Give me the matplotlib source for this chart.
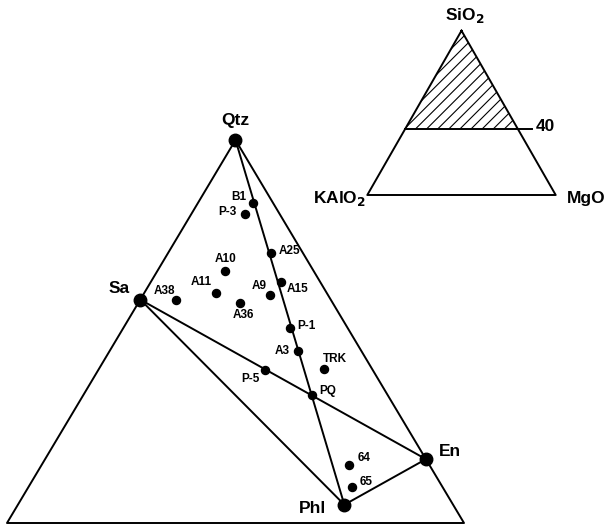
import matplotlib.pyplot as plt
from matplotlib.patches import Polygon

plt.rcParams['font.family'] = ['Liberation Sans', 'DejaVu Sans']
plt.rcParams['font.weight'] = 'bold'
plt.rcParams['hatch.linewidth'] = 0.8

# compositions in mole %: SiO2, KAlO2, MgO
phases = ['Qtz', 'Sa', 'En', 'Phl']
phase_sio2 = [100.0, 75.0, 50.0, 42.86]
phase_kalo2 = [0.0, 25.0, 0.0, 14.29]
phase_mgo = [0.0, 0.0, 50.0, 42.86]

samples = ['B1', 'P-3', 'A25', 'A10', 'A11', 'A9', 'A15', 'A36',
           'A38', 'P-1', 'A3', 'TRK', 'P-5', 'PQ', '64', '65']
sample_sio2 = [90.2, 88.4, 82.3, 79.5, 76.0, 75.7, 77.7, 74.4,
               74.9, 70.6, 66.9, 64.2, 63.9, 60.0, 49.1, 45.7]
sample_kalo2 = [2.6, 4.6, 4.2, 11.6, 14.6, 7.6, 5.2, 12.2,
                20.3, 7.5, 8.4, 6.3, 14.2, 10.0, 10.5, 11.9]
sample_mgo = [7.2, 7.0, 13.5, 8.9, 9.4, 16.7, 17.1, 13.4,
              4.8, 21.9, 24.7, 29.5, 21.9, 30.0, 40.4, 42.4]

tie_lines = [('Qtz', 'Phl'), ('Sa', 'En'), ('Sa', 'Phl'), ('Phl', 'En')]
sio2_cut = 40

# label offsets in pixels (dx, dy)
phase_offsets = {'Qtz': (0, 19), 'Sa': (-21, 11), 'En': (24, 8), 'Phl': (-32, -4)}
sample_offsets = {'B1': (-14, 6), 'P-3': (-17, 2), 'A25': (19, 2), 'A10': (0, 12),
                  'A11': (-14, 11), 'A9': (-11, 9), 'A15': (17, -7), 'A36': (3, -12),
                  'A38': (-12, 9), 'P-1': (16, 2), 'A3': (-15, 0), 'TRK': (11, 10),
                  'P-5': (-14, -9), 'PQ': (16, 4), '64': (15, 7), '65': (14, 5)}


def main_xy(s, k, m):
    # expanded triangle: SiO2 from sio2_cut to 100
    a = (s - sio2_cut) / (100 - sio2_cut)
    c = m / (100 - sio2_cut)
    return c + a / 2, a


def full_xy(s, k, m):
    return m / 100 + s / 200, s / 100


W, H = 606, 531
fig = plt.figure(figsize=(W / 100, H / 100), dpi=100)
ax = fig.add_axes([7 / W, 8 / H, 457 / W, 383 / H])
ax.set_xlim(0, 1)
ax.set_ylim(0, 1)
ax.axis('off')

lw = 1.4
corners = [(100, 0, 0), (sio2_cut, 100 - sio2_cut, 0), (sio2_cut, 0, 100 - sio2_cut)]
cx, cy = zip(*[main_xy(*c) for c in corners])
ax.plot(list(cx) + [cx[0]], list(cy) + [cy[0]], color='black', lw=lw, clip_on=False)

pos = {}
for name, s, k, m in zip(phases, phase_sio2, phase_kalo2, phase_mgo):
    pos[name] = main_xy(s, k, m)

for p1, p2 in tie_lines:
    ax.plot([pos[p1][0], pos[p2][0]], [pos[p1][1], pos[p2][1]],
            color='black', lw=lw, clip_on=False)

for name in phases:
    x, y = pos[name]
    ax.plot(x, y, 'o', color='black', ms=9, clip_on=False, zorder=5)
    ax.annotate(name, (x, y), xytext=phase_offsets[name], textcoords='offset pixels',
                ha='center', va='center', fontsize=12.5, fontweight='bold')

for name, s, k, m in zip(samples, sample_sio2, sample_kalo2, sample_mgo):
    x, y = main_xy(s, k, m)
    ax.plot(x, y, 'o', color='black', ms=5.8, clip_on=False, zorder=5)
    ax.annotate(name, (x, y), xytext=sample_offsets[name], textcoords='offset pixels',
                ha='center', va='center', fontsize=8.5, fontweight='bold')

# inset: whole SiO2-KAlO2-MgO triangle
ax2 = fig.add_axes([367.3 / W, (H - 195) / H, 188.4 / W, 164.3 / H])
ax2.set_xlim(0, 1)
ax2.set_ylim(0, 1)
ax2.axis('off')

full = [(100, 0, 0), (0, 100, 0), (0, 0, 100)]
fx, fy = zip(*[full_xy(*c) for c in full])
ax2.plot(list(fx) + [fx[0]], list(fy) + [fy[0]], color='black', lw=lw, clip_on=False)

hx, hy = zip(*[full_xy(*c) for c in corners])
ax2.add_patch(Polygon(list(zip(hx, hy)), closed=True, facecolor='none',
                      edgecolor='black', hatch='///', lw=0))
ax2.plot([hx[1], 0.875], [hy[1], hy[2]], color='black', lw=lw, clip_on=False)
ax2.annotate(str(sio2_cut), (0.875, hy[2]), xytext=(13, 3), textcoords='offset pixels',
             ha='center', va='center', fontsize=12.5)

ax2.annotate('SiO$_\\mathbf{2}$', (fx[0], fy[0]), xytext=(3, 15), textcoords='offset pixels',
             ha='center', va='center', fontsize=12.5)
ax2.annotate('KAlO$_\\mathbf{2}$', (fx[1], fy[1]), xytext=(-1, -3), textcoords='offset pixels',
             ha='right', va='center', fontsize=12.5)
ax2.annotate('MgO', (fx[2], fy[2]), xytext=(11, -4), textcoords='offset pixels',
             ha='left', va='center', fontsize=12.5)

fig.savefig('out.png', dpi=100)
